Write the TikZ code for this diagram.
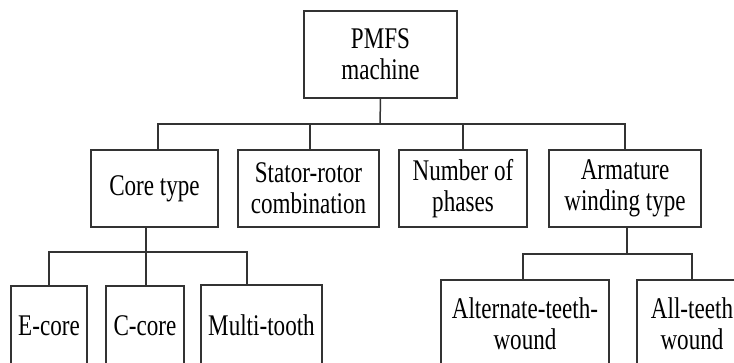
\documentclass[tikz,border=0pt]{standalone}
\usepackage{fontspec}
\setmainfont{Liberation Serif}[FakeStretch=0.77]
\tikzset{
  box/.style={draw=black!80, line width=1.5pt, align=center, inner sep=0pt,
    font=\fontsize{30}{31}\selectfont, fill=white},
  conn/.style={draw=black!80, line width=1.5pt}
}
\begin{document}
\begin{tikzpicture}[x=1pt,y=-1pt]
\useasboundingbox (0,0) rectangle (734,363);
\clip (0,0) rectangle (734,363);
% top
\node[box, minimum width=153pt, minimum height=87pt] (pmfs) at (380.5,54.5) {PMFS\\machine};
% second row
\node[box, minimum width=127pt, minimum height=77pt] (core) at (154.5,188.5) {Core type};
\node[box, minimum width=141pt, minimum height=77pt] (stator) at (308.5,188.5) {Stator-rotor\\combination};
\node[box, minimum width=128pt, minimum height=77pt] (num) at (463,188.5) {Number of\\phases};
\node[box, minimum width=152pt, minimum height=77pt] (arm) at (625,188.5) {Armature\\winding type};
% third row
\node[box, minimum width=76pt, minimum height=80pt] (ecore) at (49,326) {E-core};
\node[box, minimum width=78pt, minimum height=80pt] (ccore) at (145,326) {C-core};
\node[box, minimum width=121pt, minimum height=81pt] (multi) at (261.5,325.5) {Multi-tooth};
\node[box, minimum width=168pt, minimum height=88pt] (alt) at (525,324) {Alternate-teeth-\\wound};
\node[box, minimum width=110pt, minimum height=88pt] (allt) at (692,324) {All-teeth\\wound};
% connectors
\coordinate (b1) at (380,124);
\coordinate (b2) at (146,252);
\coordinate (b3) at (627,254);
\draw[conn] (pmfs.south) -- (b1);
\draw[conn] ([xshift=3.5pt]core.north) |- (b1) -| (arm.north);
\draw[conn] ([xshift=1.5pt]stator.north) -- ([xshift=1.5pt]stator.north |- b1);
\draw[conn] (num.north) -- (num.north |- b1);
\draw[conn] (core.south -| b2) -- (b2);
\draw[conn] (ecore.north) |- (b2) -| ([xshift=-14.5pt]multi.north);
\draw[conn] ([xshift=1pt]ccore.north) -- ([xshift=1pt]ccore.north |- b2);
\draw[conn] (arm.south -| b3) -- (b3);
\draw[conn] ([xshift=-2pt]alt.north) |- (b3) -| (allt.north);
\end{tikzpicture}
\end{document}
